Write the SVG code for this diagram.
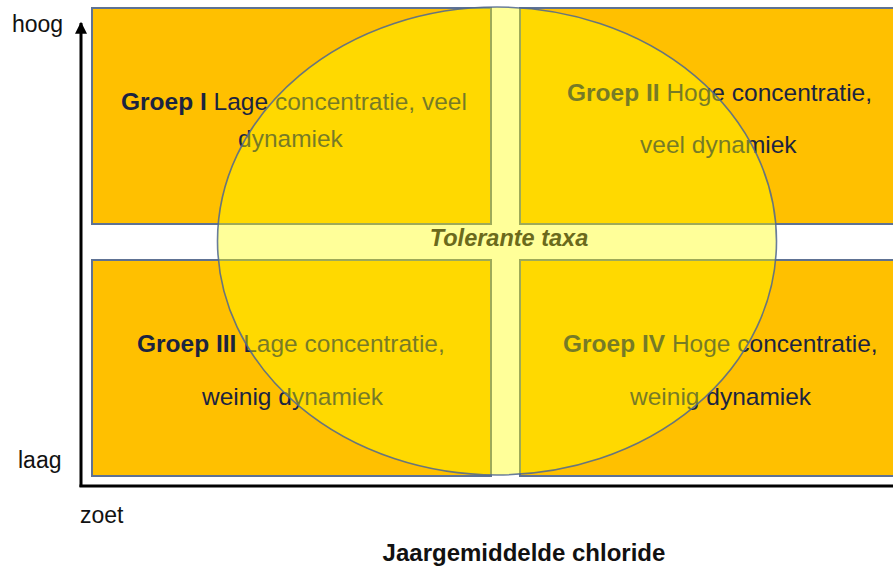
<svg xmlns="http://www.w3.org/2000/svg" width="893" height="568" viewBox="0 0 893 568">
<style>
.q{fill:#FFC000;stroke:#5E7294;stroke-width:2}
.t{font-family:"Liberation Sans",Arial,sans-serif;font-size:24.5px;fill:#1B2440}
.b{font-weight:bold}
.ax{font-family:"Liberation Sans",Arial,sans-serif;font-size:23px;fill:#111}
</style>
<defs>
<marker id="arr" viewBox="0 0 10 10" refX="9" refY="5" markerWidth="4.5" markerHeight="4" orient="auto" markerUnits="strokeWidth">
<path d="M0,0 L10,5 L0,10 Z" fill="#000"/>
</marker>
</defs>
<rect width="893" height="568" fill="#fff"/>
<g id="quadrant-1">
<rect class="q" x="92" y="8" width="399" height="216"/>
<text class="t" x="121" y="110"><tspan class="b">Groep I</tspan> Lage concentratie, veel</text>
<text class="t" x="238" y="147">dynamiek</text>
</g>
<g id="quadrant-2">
<rect class="q" x="520" y="8" width="390" height="216"/>
<text class="t" x="567" y="101"><tspan class="b">Groep II</tspan> Hoge concentratie,</text>
<text class="t" x="640" y="153">veel dynamiek</text>
</g>
<g id="quadrant-3">
<rect class="q" x="92" y="260" width="399" height="216"/>
<text class="t" x="137" y="352"><tspan class="b">Groep III</tspan> Lage concentratie,</text>
<text class="t" x="202" y="405">weinig dynamiek</text>
</g>
<g id="quadrant-4">
<rect class="q" x="520" y="260" width="390" height="216"/>
<text class="t" x="563" y="352"><tspan class="b">Groep IV</tspan> Hoge concentratie,</text>
<text class="t" x="630" y="405">weinig dynamiek</text>
</g>
<g id="tolerant">
<ellipse cx="497" cy="241" rx="279.5" ry="234" fill="#FFFF00" fill-opacity="0.4" stroke="#4F6690" stroke-width="1.6" stroke-opacity="0.85"/>
<text x="509" y="246" text-anchor="middle" font-family="Liberation Sans, Arial, sans-serif" font-size="23.5" font-weight="bold" font-style="italic" fill="#6B6A1C">Tolerante taxa</text>
</g>
<g id="connectors">
<line x1="81" y1="487" x2="81" y2="23" stroke="#000" stroke-width="3" marker-end="url(#arr)"/>
<line x1="79.5" y1="486" x2="893" y2="486" stroke="#000" stroke-width="3"/>
</g>
<g id="labels">
<text class="ax" x="12" y="32">hoog</text>
<text class="ax" x="18" y="468">laag</text>
<text class="ax" x="80" y="523">zoet</text>
<text x="524" y="561" text-anchor="middle" font-family="Liberation Sans, Arial, sans-serif" font-size="24" font-weight="bold" fill="#111">Jaargemiddelde chloride</text>
</g>
</svg>
